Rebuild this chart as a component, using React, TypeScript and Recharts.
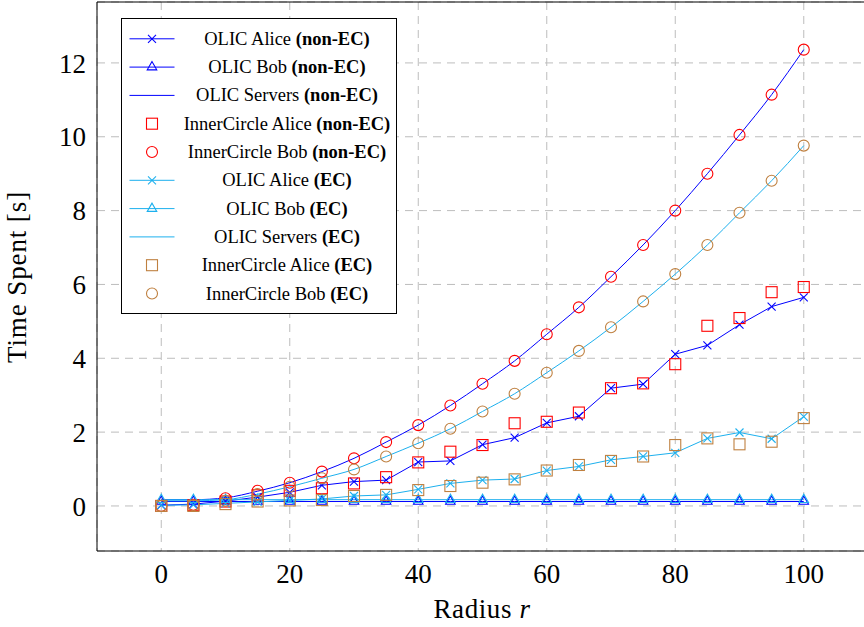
import React from "react";
import {
  LineChart,
  Line,
  XAxis,
  YAxis,
  CartesianGrid,
  ReferenceArea,
} from "recharts";

const radius = [0, 5, 10, 15, 20, 25, 30, 35, 40, 45, 50, 55, 60, 65, 70, 75, 80, 85, 90, 95, 100];

const olicAliceNonEc = [0.02, 0.05, 0.13, 0.24, 0.37, 0.56, 0.66, 0.7, 1.19, 1.22, 1.66, 1.85, 2.25, 2.43, 3.19, 3.3, 4.11, 4.35, 4.91, 5.4, 5.65];
const olicBobNonEc = [0.12, 0.12, 0.12, 0.12, 0.12, 0.12, 0.12, 0.12, 0.12, 0.12, 0.12, 0.12, 0.12, 0.12, 0.12, 0.12, 0.12, 0.12, 0.12, 0.12, 0.12];
const olicServersNonEc = [0.17, 0.17, 0.22, 0.4, 0.63, 0.93, 1.29, 1.73, 2.19, 2.72, 3.31, 3.93, 4.65, 5.38, 6.21, 7.07, 8.0, 9.0, 10.05, 11.14, 12.36];
const innerAliceNonEc = [0.0, 0.02, 0.12, 0.29, 0.41, 0.48, 0.61, 0.78, 1.18, 1.47, 1.65, 2.24, 2.28, 2.53, 3.19, 3.32, 3.84, 4.88, 5.09, 5.79, 5.93];
const innerBobNonEc = [0.0, 0.03, 0.21, 0.41, 0.63, 0.93, 1.29, 1.73, 2.19, 2.72, 3.31, 3.93, 4.65, 5.38, 6.21, 7.07, 8.0, 9.0, 10.05, 11.14, 12.36];
const olicAliceEc = [0.02, 0.03, 0.07, 0.11, 0.15, 0.19, 0.27, 0.3, 0.45, 0.61, 0.7, 0.73, 0.96, 1.07, 1.25, 1.34, 1.44, 1.83, 1.99, 1.82, 2.42];
const olicBobEc = [0.17, 0.17, 0.17, 0.17, 0.17, 0.17, 0.17, 0.17, 0.17, 0.17, 0.17, 0.17, 0.17, 0.17, 0.17, 0.17, 0.17, 0.17, 0.17, 0.17, 0.17];
const olicServersEc = [0.14, 0.14, 0.17, 0.32, 0.52, 0.75, 0.99, 1.34, 1.7, 2.09, 2.56, 3.04, 3.61, 4.2, 4.84, 5.54, 6.28, 7.07, 7.94, 8.81, 9.76];
const innerAliceEc = [0.0, 0.0, 0.05, 0.12, 0.15, 0.16, 0.27, 0.3, 0.43, 0.54, 0.63, 0.72, 0.96, 1.11, 1.22, 1.34, 1.65, 1.83, 1.67, 1.74, 2.38];
const innerBobEc = [0.0, 0.02, 0.14, 0.32, 0.52, 0.75, 0.99, 1.34, 1.7, 2.09, 2.56, 3.04, 3.61, 4.2, 4.84, 5.54, 6.28, 7.07, 7.94, 8.81, 9.76];

const xTicks = [0, 20, 40, 60, 80, 100];
const yTicks = [0, 2, 4, 6, 8, 10, 12];

const BLUE = "#0000ff";
const CYAN = "#1cb0ee";
const RED = "#ff0000";
const BROWN = "#bf8040";
const FONT = "Liberation Serif";

type Mark = "cross" | "triangle" | "square" | "circle" | "none";

const series: { key: string; values: number[]; name: string; tag: string; color: string; mark: Mark; line: "linear" | "monotone" | null }[] = [
  { key: "olicAliceNonEc", values: olicAliceNonEc, name: "OLIC Alice", tag: "non-EC", color: BLUE, mark: "cross", line: "linear" },
  { key: "olicBobNonEc", values: olicBobNonEc, name: "OLIC Bob", tag: "non-EC", color: BLUE, mark: "triangle", line: "linear" },
  { key: "olicServersNonEc", values: olicServersNonEc, name: "OLIC Servers", tag: "non-EC", color: BLUE, mark: "none", line: "monotone" },
  { key: "innerAliceNonEc", values: innerAliceNonEc, name: "InnerCircle Alice", tag: "non-EC", color: RED, mark: "square", line: null },
  { key: "innerBobNonEc", values: innerBobNonEc, name: "InnerCircle Bob", tag: "non-EC", color: RED, mark: "circle", line: null },
  { key: "olicAliceEc", values: olicAliceEc, name: "OLIC Alice", tag: "EC", color: CYAN, mark: "cross", line: "linear" },
  { key: "olicBobEc", values: olicBobEc, name: "OLIC Bob", tag: "EC", color: CYAN, mark: "triangle", line: "linear" },
  { key: "olicServersEc", values: olicServersEc, name: "OLIC Servers", tag: "EC", color: CYAN, mark: "none", line: "monotone" },
  { key: "innerAliceEc", values: innerAliceEc, name: "InnerCircle Alice", tag: "EC", color: BROWN, mark: "square", line: null },
  { key: "innerBobEc", values: innerBobEc, name: "InnerCircle Bob", tag: "EC", color: BROWN, mark: "circle", line: null },
];

const rows = radius.map((r, i) => {
  const row: Record<string, number> = { r };
  series.forEach((s) => (row[s.key] = s.values[i]));
  return row;
});

function Marker({ kind, color, cx, cy }: { kind: Mark; color: string; cx: number; cy: number }) {
  if (kind === "cross") {
    const h = 4;
    return (
      <g stroke={color} strokeWidth={1.1} fill="none">
        <line x1={cx - h} y1={cy - h} x2={cx + h} y2={cy + h} />
        <line x1={cx - h} y1={cy + h} x2={cx + h} y2={cy - h} />
      </g>
    );
  }
  if (kind === "triangle") {
    const r = 5.5;
    const pts = `${cx},${cy - r} ${cx - r * 0.866},${cy + r / 2} ${cx + r * 0.866},${cy + r / 2}`;
    return <polygon points={pts} stroke={color} strokeWidth={1.1} fill="none" />;
  }
  if (kind === "square") {
    const h = 5.5;
    return <rect x={cx - h} y={cy - h} width={2 * h} height={2 * h} stroke={color} strokeWidth={1.1} fill="none" />;
  }
  if (kind === "circle") {
    return <circle cx={cx} cy={cy} r={5.5} stroke={color} strokeWidth={1.1} fill="none" />;
  }
  return null;
}

function LegendBox() {
  const rowH = 28.3;
  return (
    <svg
      width={276}
      height={296}
      style={{ position: "absolute", left: 120.5, top: 17.5 }}
    >
      <rect x={0.5} y={0.5} width={275} height={295} fill="#fff" stroke="#000" strokeWidth={1} />
      {series.map((s, i) => {
        const y = 20.8 + i * rowH;
        return (
          <g key={s.key}>
            {s.line && <line x1={8.5} x2={53.5} y1={y} y2={y} stroke={s.color} strokeWidth={1} />}
            <Marker kind={s.mark} color={s.color} cx={31} cy={y} />
            <text
              x={166}
              y={y}
              textAnchor="middle"
              dominantBaseline="central"
              style={{ fontFamily: FONT, fontSize: 18.5 }}
              fill="#000"
            >
              {s.name}{" "}
              <tspan fontWeight="bold">({s.tag})</tspan>
            </text>
          </g>
        );
      })}
    </svg>
  );
}

export default function App() {
  return (
    <div
      style={{
        position: "absolute",
        left: 0,
        top: 0,
        width: 864,
        height: 627,
        overflow: "hidden",
        background: "#fff",
        fontFamily: FONT,
      }}
    >
      <LineChart
        width={872}
        height={627}
        data={rows}
        margin={{ top: 2, right: 4, bottom: 0, left: 0 }}
        style={{ fontFamily: FONT }}
      >
        <CartesianGrid stroke="#bdbdbd" strokeDasharray="8 6" />
        <XAxis
          dataKey="r"
          type="number"
          domain={[-10, 110]}
          ticks={xTicks}
          allowDataOverflow
          height={76}
          axisLine={false}
          tickLine={false}
          tickSize={0}
          tickMargin={13}
          tick={{ fontSize: 27, fill: "#000", style: { fontFamily: FONT } }}
          label={{
            content: () => (
              <text x={482} y={618} textAnchor="middle" fill="#000" style={{ fontFamily: FONT, fontSize: 27, letterSpacing: 0.6 }}>
                Radius <tspan fontStyle="italic">r</tspan>
              </text>
            ),
          }}
        />
        <YAxis
          type="number"
          domain={[-1.22, 13.65]}
          ticks={yTicks}
          allowDataOverflow
          width={97}
          axisLine={false}
          tickLine={false}
          tickSize={0}
          tickMargin={11}
          tick={{ fontSize: 27, fill: "#000", style: { fontFamily: FONT } }}
          label={{
            content: () => (
              <text
                x={26}
                y={277}
                transform="rotate(-90, 26, 277)"
                textAnchor="middle"
                fill="#000"
                style={{ fontFamily: FONT, fontSize: 27, letterSpacing: 0.9 }}
              >
                Time Spent [s]
              </text>
            ),
          }}
        />
        <ReferenceArea
          x1={-10}
          x2={110}
          y1={-1.22}
          y2={13.65}
          fill="none"
          stroke="#000"
          strokeWidth={1}
          ifOverflow="visible"
        />
        {series.map((s) => (
          <Line
            key={s.key}
            dataKey={s.key}
            type={s.line ?? "linear"}
            stroke={s.line ? s.color : "none"}
            strokeWidth={1}
            dot={
              s.mark === "none"
                ? false
                : (p: any) => (
                    <Marker key={`${s.key}-${p.index}`} kind={s.mark} color={s.color} cx={p.cx} cy={p.cy} />
                  )
            }
            activeDot={false}
            isAnimationActive={false}
          />
        ))}
      </LineChart>
      <LegendBox />
    </div>
  );
}
